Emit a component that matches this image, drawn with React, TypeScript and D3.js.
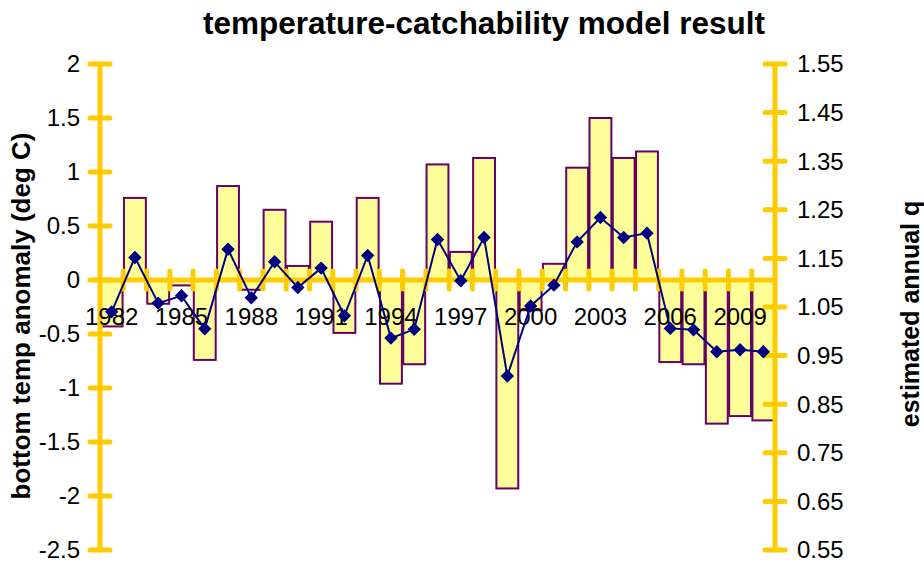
import React from "react";
import * as d3 from "d3";

// Survey years and the two series plotted against them
const years = [
  "1982", "1983", "1984", "1985", "1986", "1987", "1988", "1989", "1990", "1991",
  "1992", "1993", "1994", "1995", "1996", "1997", "1998", "1999", "2000", "2001",
  "2002", "2003", "2004", "2005", "2006", "2007", "2008", "2009", "2010",
];

// Bottom temperature anomaly (deg C), drawn as bars on the left axis
const tempAnomaly = [
  -0.43, 0.76, -0.22, -0.05, -0.74, 0.87, -0.09, 0.65, 0.13, 0.54,
  -0.49, 0.76, -0.96, -0.78, 1.07, 0.26, 1.13, -1.93, -0.28, 0.15,
  1.04, 1.5, 1.13, 1.19, -0.76, -0.78, -1.33, -1.26, -1.3,
];

// Estimated annual catchability q, drawn as a line on the right axis
const annualQ = [
  1.04, 1.152, 1.058, 1.073, 1.005, 1.169, 1.069, 1.143, 1.09, 1.13,
  1.032, 1.156, 0.986, 1.004, 1.189, 1.104, 1.193, 0.908, 1.052, 1.095,
  1.184, 1.234, 1.193, 1.202, 1.006, 1.003, 0.958, 0.962, 0.958,
];

const leftTicks = [2, 1.5, 1, 0.5, 0, -0.5, -1, -1.5, -2, -2.5];
const leftTickLabels = ["2", "1.5", "1", "0.5", "0", "-0.5", "-1", "-1.5", "-2", "-2.5"];
const rightTicks = [1.55, 1.45, 1.35, 1.25, 1.15, 1.05, 0.95, 0.85, 0.75, 0.65, 0.55];
const rightTickLabels = ["1.55", "1.45", "1.35", "1.25", "1.15", "1.05", "0.95", "0.85", "0.75", "0.65", "0.55"];
const labelledYears = ["1982", "1985", "1988", "1991", "1994", "1997", "2000", "2003", "2006", "2009"];

const W = 924;
const H = 565;
const plot = { left: 100, right: 775, top: 64, bottom: 550 };

const GOLD = "#FFCC00";
const BAR_FILL = "#FFFF99";
const BAR_EDGE = "#660066";
const NAVY = "#000080";
const FONT = "'Liberation Sans', Arial, Helvetica, sans-serif";

export default function App() {
  const x = d3.scaleBand<string>().domain(years).range([plot.left, plot.right]).padding(0);
  const yL = d3.scaleLinear().domain([-2.5, 2]).range([plot.bottom, plot.top]);
  const yR = d3.scaleLinear().domain([0.55, 1.55]).range([plot.bottom, plot.top]);

  const step = x.bandwidth();
  const barW = step * 0.94;
  const y0 = yL(0);

  const linePath = d3
    .line<number>()
    .x((_, i) => (x(years[i]) as number) + step / 2)
    .y((d) => yR(d))(annualQ);

  const diamond = d3.symbol().type(d3.symbolDiamond2).size(115)();

  return (
    <svg
      width={W}
      height={H}
      viewBox={`0 0 ${W} ${H}`}
      style={{ position: "absolute", left: 0, top: 0, background: "#fff" }}
      fontFamily={FONT}
    >
      <rect x={0} y={0} width={W} height={H} fill="#fff" />

      {/* title */}
      <text x={484} y={34} textAnchor="middle" fontSize={31.5} fontWeight="bold" fill="#000">
        temperature-catchability model result
      </text>

      {/* temperature bars */}
      <g>
        {tempAnomaly.map((v, i) => {
          const cx = (x(years[i]) as number) + step / 2;
          const top = Math.min(yL(v), y0);
          const h = Math.abs(yL(v) - y0);
          return (
            <rect
              key={years[i]}
              x={cx - barW / 2}
              y={top}
              width={barW}
              height={h}
              fill={BAR_FILL}
              stroke={BAR_EDGE}
              strokeWidth={2}
            />
          );
        })}
      </g>

      {/* left axis */}
      <g stroke={GOLD} strokeLinecap="round">
        <line x1={plot.left} x2={plot.left} y1={plot.top} y2={plot.bottom} strokeWidth={5} />
        {leftTicks.map((t) => (
          <line key={t} x1={plot.left - 10} x2={plot.left + 10} y1={yL(t)} y2={yL(t)} strokeWidth={5} />
        ))}
      </g>
      <g fontSize={24} fill="#000" textAnchor="end">
        {leftTicks.map((t, i) => (
          <text key={t} x={80} y={yL(t)} dy="0.35em">
            {leftTickLabels[i]}
          </text>
        ))}
      </g>

      {/* right axis */}
      <g stroke={GOLD} strokeLinecap="round">
        <line x1={plot.right} x2={plot.right} y1={plot.top} y2={plot.bottom} strokeWidth={5} />
        {rightTicks.map((t) => (
          <line key={t} x1={plot.right - 10} x2={plot.right + 10} y1={yR(t)} y2={yR(t)} strokeWidth={5} />
        ))}
      </g>
      <g fontSize={24} fill="#000" textAnchor="start">
        {rightTicks.map((t, i) => (
          <text key={t} x={797} y={yR(t)} dy="0.35em">
            {rightTickLabels[i]}
          </text>
        ))}
      </g>

      {/* category axis at zero anomaly */}
      <g stroke={GOLD} strokeLinecap="round">
        <line x1={plot.left} x2={plot.right} y1={y0} y2={y0} strokeWidth={5} />
        {years.slice(1).map((yr) => (
          <line
            key={yr}
            x1={x(yr) as number}
            x2={x(yr) as number}
            y1={y0 - 9}
            y2={y0 + 9}
            strokeWidth={5}
          />
        ))}
      </g>
      <g fontSize={24} fill="#000" textAnchor="middle">
        {labelledYears.map((yr) => (
          <text key={yr} x={(x(yr) as number) + step / 2} y={325}>
            {yr}
          </text>
        ))}
      </g>

      {/* catchability line with diamond markers */}
      <path d={linePath ?? ""} fill="none" stroke={NAVY} strokeWidth={2} />
      <g fill={NAVY}>
        {annualQ.map((v, i) => (
          <path
            key={years[i]}
            d={diamond ?? ""}
            transform={`translate(${(x(years[i]) as number) + step / 2},${yR(v)})`}
          />
        ))}
      </g>

      {/* axis titles */}
      <text
        transform={`translate(21,316) rotate(-90)`}
        textAnchor="middle"
        dominantBaseline="central"
        fontSize={26}
        fontWeight="bold"
        fill="#000"
      >
        bottom temp anomaly (deg C)
      </text>
      <text
        transform={`translate(910,314) rotate(-90)`}
        textAnchor="middle"
        dominantBaseline="central"
        fontSize={25}
        fontWeight="bold"
        fill="#000"
      >
        estimated annual q
      </text>
    </svg>
  );
}
